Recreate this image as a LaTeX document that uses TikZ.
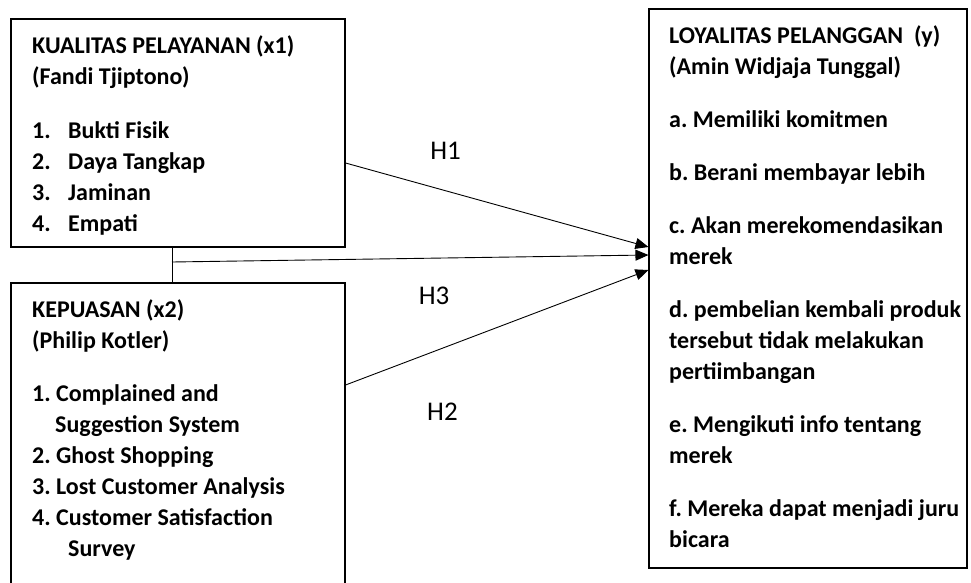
\documentclass[tikz,border=0pt]{standalone}
\usepackage{fontspec}
\setmainfont{Carlito}
\frenchspacing
\usetikzlibrary{arrows.meta, positioning, calc}
\tikzset{
	varbox/.style ={rectangle, draw=black, line width=1.1pt, inner sep=0pt},
	vartext/.style={anchor=north west, align=left, inner sep=0pt, font=\fontsize{24}{31}\selectfont\bfseries},
	hyp/.style    ={font=\fontsize{27}{30}\selectfont, inner sep=0pt},
	link/.style   ={-{Triangle[length=13pt, width=11pt]}, line width=0.9pt},
}
\newcommand{\toprule}{\rule{0pt}{20pt}}

\begin{document}
\begin{tikzpicture}[x=1pt, y=-1pt]
	\clip (0,0) rectangle (971,583);
	% the three variable boxes
	\node[varbox, minimum width=334pt, minimum height=228pt] (kp) at (178,133) {};
	\node[varbox, minimum width=334pt, minimum height=317pt] (ks) at (178,441.5) {};
	\node[varbox, minimum width=318pt, minimum height=559pt] (lp) at (808,288.5) {};
	\node[vartext] (kptext) at (32,33) {\toprule KUALITAS PELAYANAN (x1)\\
		(Fandi Tjiptono)\\[23pt]
		\makebox[36pt][l]{1.}Bukti Fisik\\
		\makebox[36pt][l]{2.}Daya Tangkap\\
		\makebox[36pt][l]{3.}Jaminan\\
		\makebox[36pt][l]{4.}Empati};
	\node[vartext] (kstext) at (32,297) {\toprule KEPUASAN (x2)\\
		(Philip Kotler)\\[22pt]
		1. Complained and\\
		\hspace*{23pt}Suggestion System\\
		2. Ghost Shopping\\
		3. Lost Customer Analysis\\
		4. Customer Satisfaction\\
		\hspace*{36pt}Survey};
	\node[vartext] (lptext) at (669,23) {\toprule LOYALITAS PELANGGAN\ \ (y)\\
		(Amin Widjaja Tunggal)\\[22pt]
		a. Memiliki komitmen\\[22pt]
		b. Berani membayar lebih\\[22pt]
		c. Akan merekomendasikan\\
		merek\\[22pt]
		d. pembelian kembali produk\\
		tersebut tidak melakukan\\
		pertiimbangan\\[22pt]
		e. Mengikuti info tentang\\
		merek\\[22pt]
		f. Mereka dapat menjadi juru\\
		bicara};
	% joint of x1 and x2
	\coordinate (jn) at (172,262);
	\draw[line width=0.9pt] (kp.south -| jn) -- (ks.north -| jn);
	\draw[link] ([yshift=-30pt]kp.east) -- node[hyp, pos=0.33, yshift=39.5pt] {H1} ([yshift=41.5pt]lp.west);
	\draw[link] (jn) -- node[hyp, pos=0.55, yshift=-38pt] {H3} ([yshift=33.5pt]lp.west);
	\draw[link] ([yshift=56.5pt]ks.east) -- node[hyp, pos=0.32, yshift=-64pt] {H2} ([yshift=18.5pt]lp.west);
\end{tikzpicture}
\end{document}
